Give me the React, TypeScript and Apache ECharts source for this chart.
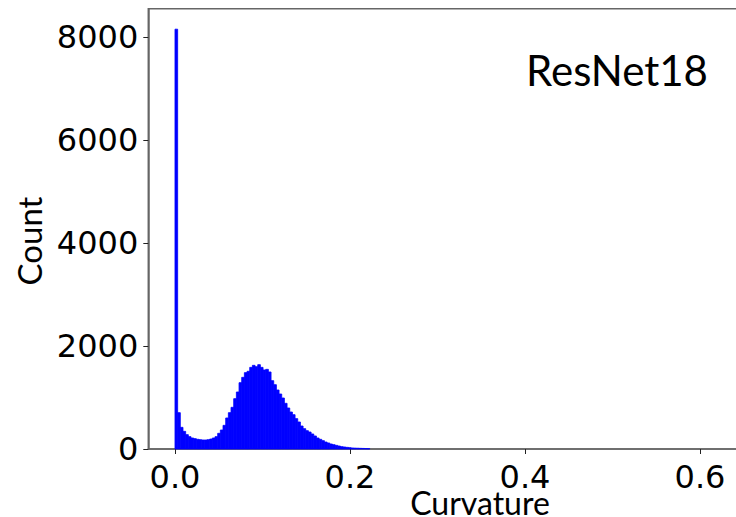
import React, { useEffect, useRef } from 'react';
import * as echarts from 'echarts';

// Histogram of curvature values (ResNet18)
const binStart = 0;
const binWidth = 0.00305;
const counts = [
  8160, 706, 421, 343, 279, 240, 214, 201, 188, 181,
  175, 175, 181, 194, 214, 240, 305, 369, 460, 603,
  706, 810, 978, 1108, 1289, 1393, 1484, 1510, 1587, 1626,
  1600, 1639, 1587, 1536, 1548, 1497, 1328, 1250, 1147, 1069,
  991, 888, 797, 719, 667, 590, 525, 447, 395, 356,
  330, 292, 253, 214, 188, 162, 136, 117, 97, 84,
  71, 58, 45, 39, 32, 26, 20, 17, 15, 13,
  11, 9, 7,
];
const xTicks = [0, 0.2, 0.4, 0.6];
const yTicks = [0, 2000, 4000, 6000, 8000];
const title = 'ResNet18';
const xName = 'Curvature';
const yName = 'Count';

export default function App() {
  const ref = useRef<HTMLDivElement>(null);
  useEffect(() => {
    if (!ref.current) return;
    const chart = echarts.init(ref.current, null, { renderer: 'svg' });
    const data = counts.map((c, i) => [binStart + i * binWidth, binStart + (i + 1) * binWidth, c]);
    const spine = { color: '#666666', width: 1.5 };
    const tickFont = { fontSize: 32, fontFamily: '"DejaVu Sans", sans-serif', color: '#000' };
    chart.setOption({
      animation: false,
      grid: {
        left: 148.3,
        top: 8.8,
        width: 589.2,
        height: 440.2,
        show: true,
        borderColor: '#666666',
        borderWidth: 1.5,
        backgroundColor: 'transparent',
      },
      xAxis: {
        type: 'value',
        min: -0.0305,
        max: 0.6429,
        axisLine: { show: true, onZero: false, lineStyle: spine },
        axisTick: { show: true, customValues: xTicks, length: 5, lineStyle: { color: '#222', width: 1 } },
        axisLabel: {
          customValues: xTicks,
          formatter: (v: number) => v.toFixed(1),
          ...tickFont,
          margin: 12,
        },
        splitLine: { show: false },
      },
      yAxis: {
        type: 'value',
        min: 0,
        max: 8556,
        axisLine: { show: true, onZero: false, lineStyle: spine },
        axisTick: { show: true, customValues: yTicks, length: 5, lineStyle: { color: '#222', width: 1 } },
        axisLabel: {
          customValues: yTicks,
          formatter: (v: number) => String(Math.round(v)),
          ...tickFont,
          margin: 10,
        },
        splitLine: { show: false },
      },
      series: [
        {
          type: 'custom',
          encode: { x: [0, 1], y: 2 },
          data,
          renderItem: (params: any, api: any) => {
            const x0 = api.value(0);
            const x1 = api.value(1);
            const c = api.value(2);
            const p0 = api.coord([x0, 0]);
            const p1 = api.coord([x1, c]);
            return {
              type: 'rect',
              shape: { x: p0[0], y: p1[1], width: p1[0] - p0[0], height: p0[1] - p1[1] },
              style: { fill: '#0000ff', stroke: '#0000ff', lineWidth: 0.8 },
            };
          },
        },
      ],
      graphic: [
        {
          type: 'text',
          x: 617,
          y: 70,
          style: {
            text: title,
            fontFamily: 'Lato',
            fontSize: 42,
            fill: '#000',
            align: 'center',
            verticalAlign: 'middle',
          },
        },
        {
          type: 'text',
          x: 480,
          y: 502,
          style: {
            text: xName,
            fontFamily: 'Lato',
            fontSize: 32,
            fill: '#000',
            align: 'center',
            verticalAlign: 'middle',
          },
        },
        {
          type: 'text',
          x: 29,
          y: 241,
          rotation: Math.PI / 2,
          style: {
            text: yName,
            fontFamily: 'Lato',
            fontSize: 33,
            fill: '#000',
            align: 'center',
            verticalAlign: 'middle',
          },
        },
      ],
    });
    return () => chart.dispose();
  }, []);
  return (
    <div style={{ position: 'absolute', left: 0, top: 0, width: 736, height: 517, overflow: 'hidden', background: '#fff' }}>
      <div ref={ref} style={{ width: 742, height: 517 }} />
    </div>
  );
}
